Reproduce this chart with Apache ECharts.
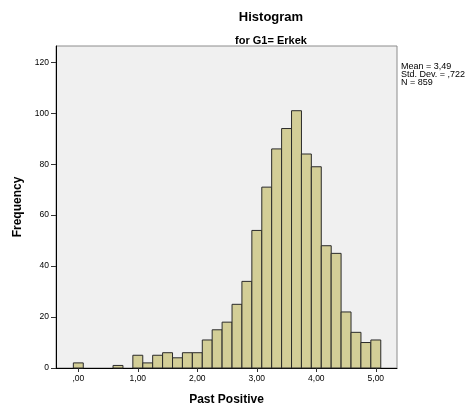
<!DOCTYPE html>
<html>
<head>
<meta charset="utf-8">
<script src="https://cdn.jsdelivr.net/npm/echarts@6/dist/echarts.min.js"></script>
<style>
html,body{margin:0;padding:0;background:#fff;}
#c{width:474px;height:412px;}
</style>
</head>
<body>
<div id="c"></div>
<script>
// Histogram bins (bin centres in "Past Positive" units) and frequencies
var binCenters = [0.000, 0.167, 0.333, 0.500, 0.667, 0.833, 1.000, 1.167, 1.333, 1.500, 1.667,
                  1.833, 2.000, 2.167, 2.333, 2.500, 2.667, 2.833, 3.000, 3.167, 3.333,
                  3.500, 3.667, 3.833, 4.000, 4.167, 4.333, 4.500, 4.667, 4.833, 5.000];
var frequencies = [2, 0, 0, 0, 1, 0, 5, 2, 5, 6, 4,
                   6, 6, 11, 15, 18, 25, 34, 54, 71, 86,
                   94, 101, 84, 79, 48, 45, 22, 14, 10, 11];
var binWidth = 0.1667;
var xTickValues = [0, 1, 2, 3, 4, 5];
var xTickLabels = [",00", "1,00", "2,00", "3,00", "4,00", "5,00"];
var yTickValues = [0, 20, 40, 60, 80, 100, 120];
var statsLines = ["Mean = 3,49", "Std. Dev. = ,722", "N = 859"];
var titleText = "Histogram";
var subtitleText = "for G1= Erkek";
var xName = "Past Positive";
var yName = "Frequency";

var FONT = "'Liberation Sans', Arial, sans-serif";
var chart = echarts.init(document.getElementById('c'), null, {renderer: 'canvas'});

var seriesData = binCenters.map(function (c, i) { return [c, frequencies[i]]; });

var option = {
  backgroundColor: '#ffffff',
  animation: false,
  title: [
    {text: titleText, left: 266, top: 6, textAlign: 'center',
     textStyle: {fontFamily: FONT, fontSize: 13, fontWeight: 'bold', color: '#000'}},
    {text: subtitleText, left: 266, top: 30, textAlign: 'center',
     textStyle: {fontFamily: FONT, fontSize: 11, fontWeight: 'bold', color: '#000'}}
  ],
  grid: {
    left: 56, top: 46, right: 77, bottom: 44,
    show: true, backgroundColor: '#f0f0f0', borderColor: '#8c8c8c', borderWidth: 1
  },
  xAxis: {
    type: 'value', min: -0.375, max: 5.356,
    name: xName, nameLocation: 'middle', nameGap: 26,
    nameTextStyle: {fontFamily: FONT, fontSize: 12, fontWeight: 'bold', color: '#000'},
    axisLine: {show: true, onZero: false, lineStyle: {color: '#000', width: 1}},
    axisTick: {show: true, length: 4, customValues: xTickValues, lineStyle: {color: '#333'}},
    axisLabel: {show: true, customValues: xTickValues, margin: 6,
      fontFamily: FONT, fontSize: 8.5, color: '#000',
      formatter: function (v) { var i = xTickValues.indexOf(Math.round(v)); return i >= 0 ? xTickLabels[i] : ''; }},
    splitLine: {show: false}
  },
  yAxis: {
    type: 'value', min: 0, max: 126.4,
    name: yName, nameLocation: 'middle', nameGap: 28, nameRotate: 90,
    nameTextStyle: {fontFamily: FONT, fontSize: 12, fontWeight: 'bold', color: '#000'},
    axisLine: {show: true, onZero: false, lineStyle: {color: '#000', width: 1}},
    axisTick: {show: true, length: 5, customValues: yTickValues, lineStyle: {color: '#333'}},
    axisLabel: {show: true, customValues: yTickValues, margin: 7,
      fontFamily: FONT, fontSize: 8.5, color: '#000'},
    splitLine: {show: false}
  },
  graphic: [
    {type: 'text', left: 401, top: 62,
     style: {text: statsLines.join('\n'), fontFamily: FONT, fontSize: 9, lineHeight: 8, fill: '#000'}}
  ],
  series: [{
    type: 'custom',
    data: seriesData,
    encode: {x: 0, y: 1},
    renderItem: function (params, api) {
      var x = api.value(0), y = api.value(1);
      if (!y) return null;
      var p0 = api.coord([x - binWidth / 2, y]);
      var p1 = api.coord([x + binWidth / 2, 0]);
      return {
        type: 'rect',
        shape: {x: p0[0], y: p0[1], width: p1[0] - p0[0], height: p1[1] - p0[1]},
        style: {fill: '#d3ce97', stroke: '#2a2a2a', lineWidth: 1}
      };
    }
  }]
};
chart.setOption(option);
</script>
</body>
</html>
